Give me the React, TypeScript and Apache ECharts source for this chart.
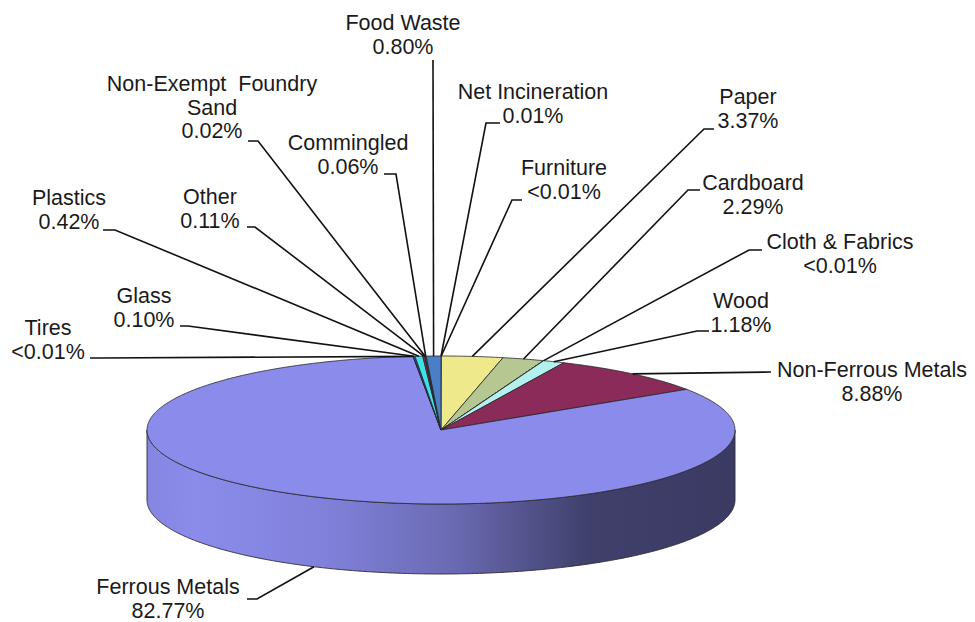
import React, { useEffect, useRef } from "react";
import * as echarts from "echarts";

// ---- data (percent share of disposed material); 0.005 stands for "<0.01" ----
const CATEGORIES = [
  "Net Incineration",
  "Furniture",
  "Paper",
  "Cardboard",
  "Cloth & Fabrics",
  "Wood",
  "Non-Ferrous Metals",
  "Ferrous Metals",
  "Tires",
  "Glass",
  "Plastics",
  "Other",
  "Non-Exempt Foundry Sand",
  "Commingled",
  "Food Waste",
];
const SHARES = [0.01, 0.005, 3.37, 2.29, 0.005, 1.18, 8.88, 82.77, 0.005, 0.1, 0.42, 0.11, 0.02, 0.06, 0.8];

// ---- styles ----
const COLORS = [
  "#660066", "#FF8080", "#EEEA8C", "#B7C791", "#CCCCFF", "#B5F0F0", "#8B2B5A",
  "#8B8BEB", "#1F1F5F", "#2050A0", "#3FE0E8", "#8B2B5A", "#7030A0", "#339966", "#4A7EC6",
];

// ---- pie geometry (layout) ----
const CX = 441;
const CY = 430;
const RX = 294;
const RY = 74;
const DEPTH = 70;

// ---- label layout: text centre x, first-line centre y, leader start & elbow ----
const LABEL_LAYOUT: Record<string, { lines: string; x: number; y: number; from: number[]; elbow: number[] }> = {
  "Net Incineration": { lines: "Net Incineration", x: 533, y: 92, from: [500, 123], elbow: [486, 123] },
  Furniture: { lines: "Furniture", x: 564, y: 168, from: [522, 200], elbow: [512, 200] },
  Paper: { lines: "Paper", x: 748, y: 97, from: [714, 129], elbow: [704, 129] },
  Cardboard: { lines: "Cardboard", x: 753, y: 183, from: [700, 190], elbow: [688, 190] },
  "Cloth & Fabrics": { lines: "Cloth & Fabrics", x: 840, y: 242, from: [762, 250], elbow: [749, 250] },
  Wood: { lines: "Wood", x: 741, y: 301, from: [709, 331], elbow: [697, 331] },
  "Non-Ferrous Metals": { lines: "Non-Ferrous Metals", x: 872, y: 370, from: [771, 372], elbow: [771, 372] },
  "Ferrous Metals": { lines: "Ferrous Metals", x: 168, y: 587, from: [247, 599], elbow: [257, 599] },
  Tires: { lines: "Tires", x: 48, y: 328, from: [90, 358], elbow: [100, 358] },
  Glass: { lines: "Glass", x: 144, y: 296, from: [180, 326], elbow: [188, 326] },
  Plastics: { lines: "Plastics", x: 69, y: 198, from: [103, 230], elbow: [115, 230] },
  Other: { lines: "Other", x: 210, y: 197, from: [247, 227], elbow: [255, 227] },
  "Non-Exempt Foundry Sand": { lines: "Non-Exempt  Foundry\nSand", x: 212, y: 84, from: [248, 141], elbow: [258, 141] },
  Commingled: { lines: "Commingled", x: 348, y: 143, from: [384, 174], elbow: [396, 174] },
  "Food Waste": { lines: "Food Waste", x: 403, y: 23, from: [433, 60], elbow: [433, 60] },
};

const FONT = "21.5px 'Liberation Sans', Arial, sans-serif";
const LINE_H = 23.5;

const TOTAL = SHARES.reduce((a, b) => a + b, 0);

function fmt(v: number) {
  return v < 0.01 ? "<0.01%" : v.toFixed(2) + "%";
}

function pt(deg: number, dy = 0): number[] {
  const r = (deg * Math.PI) / 180;
  return [CX + RX * Math.sin(r), CY - RY * Math.cos(r) + dy];
}

function arc(a0: number, a1: number, dy = 0): number[][] {
  const n = Math.max(2, Math.ceil(Math.abs(a1 - a0) / 0.5) + 1);
  const out: number[][] = [];
  for (let k = 0; k < n; k++) out.push(pt(a0 + ((a1 - a0) * k) / (n - 1), dy));
  return out;
}

// multiply a hex colour by factor f (<1 darkens)
function shade(hex: string, f: number) {
  const n = parseInt(hex.slice(1), 16);
  const r = Math.round(((n >> 16) & 255) * f);
  const g = Math.round(((n >> 8) & 255) * f);
  const b = Math.round((n & 255) * f);
  return `rgb(${r},${g},${b})`;
}

function sideFill(color: string) {
  return {
    type: "linear",
    x: CX - RX,
    y: 0,
    x2: CX + RX,
    y2: 0,
    global: true,
    colorStops: [
      { offset: 0, color: shade(color, 0.96) },
      { offset: 0.08, color: shade(color, 1.0) },
      { offset: 0.3, color: shade(color, 0.93) },
      { offset: 0.52, color: shade(color, 0.76) },
      { offset: 0.75, color: shade(color, 0.46) },
      { offset: 1, color: shade(color, 0.42) },
    ],
  };
}

export default function App() {
  const ref = useRef<HTMLDivElement>(null);

  useEffect(() => {
    document.body.style.margin = "0";
    const chart = echarts.init(ref.current!, null, { renderer: "svg" });

    // cumulative start angle (degrees, clockwise from 12 o'clock)
    const starts: number[] = [];
    let acc = 0;
    SHARES.forEach((v) => {
      starts.push((acc / TOTAL) * 360);
      acc += v;
    });

    const renderItem = (params: any, api: any) => {
      const i = params.dataIndex;
      const v = api.value(0) as number;
      const name = CATEGORIES[i];
      const color = COLORS[i];
      const a0 = starts[i];
      const a1 = a0 + (v / TOTAL) * 360;
      const children: any[] = [];

      // front wall
      const s = Math.max(a0, 90);
      const e = Math.min(a1, 270);
      if (e > s) {
        const pts = arc(s, e, 0).concat(arc(e, s, DEPTH));
        children.push({
          type: "polygon",
          z2: 1,
          shape: { points: pts },
          style: { fill: sideFill(color), stroke: "#2a2a3a", lineWidth: 0.9 },
        });
      }

      // top face
      children.push({
        type: "polygon",
        z2: 5,
        shape: { points: [[CX, CY]].concat(arc(a0, a1, 0)) },
        style: { fill: color, stroke: "#262626", lineWidth: 0.8, lineJoin: "round" },
      });

      // leader line & label
      const lay = LABEL_LAYOUT[name];
      if (lay) {
        const mid = (a0 + a1) / 2;
        const front = Math.cos((mid * Math.PI) / 180) < 0;
        const anchor = pt(mid, front ? DEPTH : 0);
        children.push({
          type: "polyline",
          z2: 10,
          shape: { points: [lay.from, lay.elbow, anchor] },
          style: { stroke: "#111", lineWidth: 1.6, fill: null },
        });
        children.push({
          type: "text",
          z2: 11,
          x: lay.x,
          y: lay.y - LINE_H / 2,
          style: {
            text: lay.lines + "\n" + fmt(v),
            font: FONT,
            fill: "#1a1a1a",
            align: "center",
            verticalAlign: "top",
            lineHeight: LINE_H,
          },
        });
      }

      return { type: "group", children };
    };

    chart.setOption({
      animation: false,
      backgroundColor: "#ffffff",
      series: [
        {
          type: "custom",
          coordinateSystem: "none",
          silent: true,
          renderItem,
          data: SHARES.map((v, i) => ({ name: CATEGORIES[i], value: [v] })),
        },
      ],
    });

    return () => chart.dispose();
  }, []);

  return <div ref={ref} style={{ width: 975, height: 622 }} />;
}
